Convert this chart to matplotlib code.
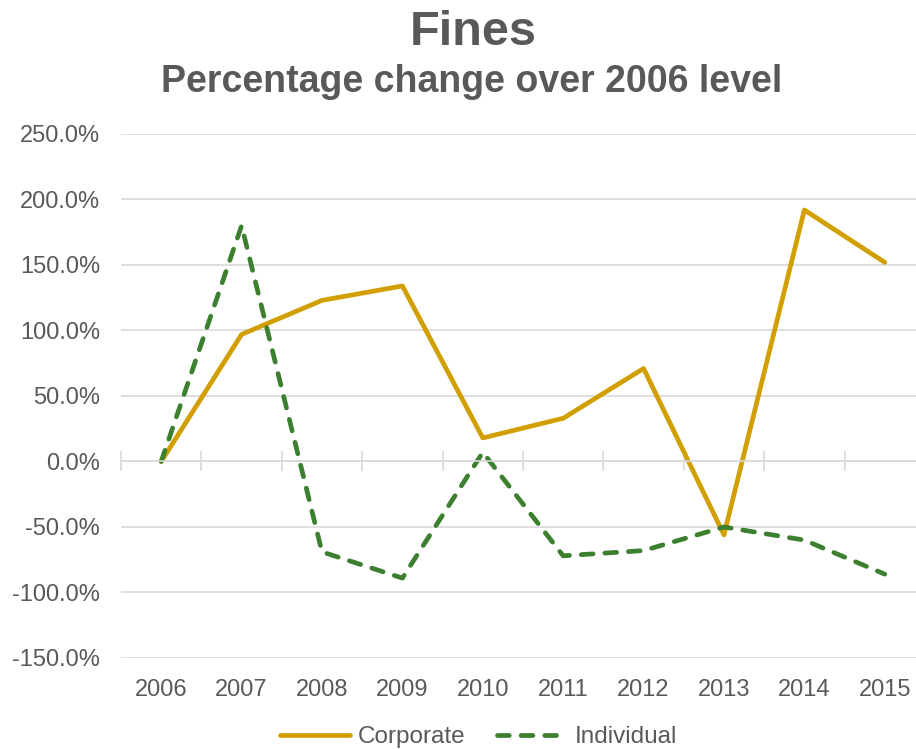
import matplotlib
matplotlib.use('Agg')
import matplotlib.pyplot as plt
from matplotlib.ticker import FuncFormatter, FixedLocator

plt.rcParams['font.family'] = ['Liberation Sans', 'DejaVu Sans']

# Data (% change over 2006)
years = ['2006', '2007', '2008', '2009', '2010', '2011', '2012', '2013', '2014', '2015']
corporate = [0, 97, 123, 134, 18, 33, 71, -56, 192, 152]
individual = [0, 180, -69, -89, 7, -72, -68, -50, -60, -86]

gray = '#595959'
grid_col = '#d9d9d9'

fig = plt.figure(figsize=(9.16, 7.49), dpi=100)
ax = fig.add_axes([0.1321, 0.1215, 0.8777, 0.6996])

x = list(range(len(years)))
ax.plot(x, corporate, color='#D29F00', lw=3.4, solid_capstyle='round',
        solid_joinstyle='round', label='Corporate')
ax.plot(x, individual, color='#3B7F2F', lw=3.4, dashes=(2.5, 2.5),
        dash_capstyle='round', dash_joinstyle='round', label='Individual')

ax.set_xlim(-0.5, len(years) - 0.5)
ax.set_ylim(-150, 250)
ax.set_yticks(range(-150, 251, 50))
ax.yaxis.set_major_formatter(FuncFormatter(lambda v, p: f'{v:.1f}%'))
ax.grid(axis='y', color=grid_col, lw=1.2)
ax.set_axisbelow(True)
ax.tick_params(axis='y', length=0, labelsize=17, labelcolor=gray, pad=15)

for s in ['top', 'right', 'left']:
    ax.spines[s].set_visible(False)
ax.spines['bottom'].set_position(('data', 0))
ax.spines['bottom'].set_color(grid_col)
ax.spines['bottom'].set_linewidth(1.2)
ax.set_xticks(x)
ax.xaxis.set_minor_locator(FixedLocator([i - 0.5 for i in range(len(years) + 1)]))
ax.tick_params(axis='x', which='major', length=0, labelbottom=False)
ax.tick_params(axis='x', which='minor', direction='inout', length=14,
               width=1.2, color=grid_col)

sec = ax.secondary_xaxis('bottom')
sec.set_xticks(x)
sec.set_xticklabels(years)
sec.tick_params(length=0, labelsize=17, labelcolor=gray, pad=15)
sec.spines['bottom'].set_visible(False)

fig.text(0.517, 0.957, 'Fines', ha='center', va='center', fontsize=35,
         fontweight='bold', color=gray)
fig.text(0.515, 0.891, 'Percentage change over 2006 level', ha='center',
         va='center', fontsize=27, fontweight='bold', color=gray)

fig.legend(loc='center', bbox_to_anchor=(0.522, 0.016), ncol=2, frameon=False,
           fontsize=17.5, labelcolor=gray, handlelength=2.9, columnspacing=1.3,
           handletextpad=0.3, borderpad=0.2)

fig.savefig('out.png', dpi=100)
